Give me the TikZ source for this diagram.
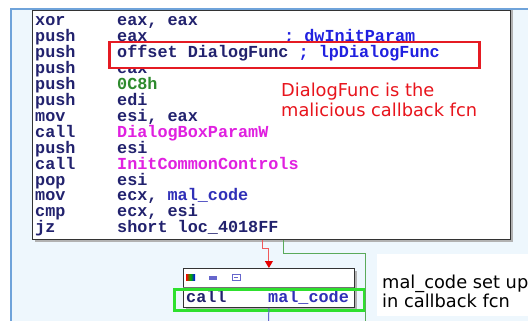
\documentclass[tikz,border=0pt]{standalone}
\usepackage{fontspec}
\newfontfamily\codefont{Liberation Mono}
\newfontfamily\notefont{DejaVu Sans}
\usetikzlibrary{arrows.meta}
\definecolor{panelbg}{HTML}{EEF7FD}
\definecolor{panelline}{HTML}{6FA3DA}
\definecolor{navy}{HTML}{22226E}
\definecolor{magent}{HTML}{E020E0}
\definecolor{codegreen}{HTML}{2E8B2E}
\definecolor{cmtblue}{HTML}{2020E0}
\definecolor{namblue}{HTML}{3030B8}
\definecolor{hlred}{HTML}{E51B23}
\definecolor{hlgreen}{HTML}{2EE02E}
\definecolor{notered}{HTML}{E8141C}
\definecolor{redline}{HTML}{F05A5A}
\definecolor{grnline}{HTML}{5AAA5A}
\definecolor{bluline}{HTML}{6666CC}
\tikzset{
  codetxt/.style={font=\codefont\bfseries\fontsize{16.8}{17}\selectfont, text=navy, anchor=base west, inner sep=0pt},
  notetxt/.style={font=\notefont\fontsize{17.8}{20}\selectfont, anchor=base west, inner sep=0pt},
  boxst/.style={draw=black!80, fill=white, line width=0.8pt, inner sep=0pt, anchor=north west},
  shadowst/.style={fill=black!30},
}
\begin{document}
\begin{tikzpicture}[x=1pt,y=-1pt]
\useasboundingbox (0,0) rectangle (528,321);
\fill[white] (0,0) rectangle (528,321);
\fill[panelbg] (11,9) rectangle (528,321);
% code block
\fill[shadowst] (35,10) rectangle (513,242);
\node[boxst, minimum width=478pt, minimum height=229pt] (code) at (32,10) {};
\draw[panelline, line width=2pt] (11,321) -- (11,9.5) -- (528,9.5);
% rows
\node[codetxt] (m1) at (35,26) {xor};
\node[codetxt] (o1) at (117,26) {eax, eax};
\node[codetxt] (m2) at (35,41.9) {push};
\node[codetxt] (o2) at (117,41.9) {eax};
\node[codetxt, text=cmtblue] (c2) at (284,41.9) {; dwInitParam};
\node[codetxt] (m4) at (35,73.7) {push};
\node[codetxt] (o4) at (117,73.7) {eax};
\node[draw=hlred, line width=2.5pt, fill=white, minimum width=370pt, minimum height=26pt, inner sep=0pt, anchor=north west] (hl) at (108,41) {};
\node[codetxt] (m3) at (35,57.8) {push};
\node[codetxt] (o3) at (117,57.8) {offset DialogFunc \textcolor{cmtblue}{; lpDialogFunc}};
\node[codetxt] (m5) at (35,89.6) {push};
\node[codetxt, text=codegreen] (o5) at (117,89.6) {0C8h};
\node[codetxt] (m6) at (35,105.5) {push};
\node[codetxt] (o6) at (117,105.5) {edi};
\node[codetxt] (m7) at (35,121.4) {mov};
\node[codetxt] (o7) at (117,121.4) {esi, eax};
\node[codetxt] (m8) at (35,137.3) {call};
\node[codetxt, text=magent] (o8) at (117,137.3) {DialogBoxParamW};
\node[codetxt] (m9) at (35,153.2) {push};
\node[codetxt] (o9) at (117,153.2) {esi};
\node[codetxt] (m10) at (35,169.1) {call};
\node[codetxt, text=magent] (o10) at (117,169.1) {InitCommonControls};
\node[codetxt] (m11) at (35,185) {pop};
\node[codetxt] (o11) at (117,185) {esi};
\node[codetxt] (m12) at (35,200.9) {mov};
\node[codetxt] (o12) at (117,200.9) {ecx, \textcolor{namblue}{mal\_code}};
\node[codetxt] (m13) at (35,216.8) {cmp};
\node[codetxt] (o13) at (117,216.8) {ecx, esi};
\node[codetxt] (m14) at (35,232.7) {jz};
\node[codetxt] (o14) at (117,232.7) {short loc\_4018FF};
% red note
\node[notetxt, text=notered] (n1) at (281,97) {DialogFunc is the};
\node[notetxt, text=notered] (n2) at (281,117) {malicious callback fcn};
% lower block
\fill[shadowst] (186,271) rectangle (357,310);
\node[boxst, minimum width=171pt, minimum height=39pt] (blk) at (183,268) {};
\draw[black!55, line width=0.6pt] (183,287) -- (354,287);
\shade[left color=red, right color=blue, middle color=green!70!black] (186,274) rectangle (195,280);
\fill[bluline] (209,276) rectangle (217,280);
\draw[bluline, line width=0.8pt] (232,274) rectangle (240,280);
\draw[bluline, line width=0.6pt] (234,277) -- (238,277);
\node[codetxt] (bm) at (186,302) {call};
\node[codetxt, text=namblue] (bo) at (268,302) {mal\_code};
\node[draw=hlgreen, line width=3pt, minimum width=190pt, minimum height=21pt, inner sep=0pt, anchor=north west] (hg) at (173,288) {};
% connectors
\coordinate (rx) at (262,0);
\coordinate (gx) at (283,0);
\coordinate (gend) at (365,321);
\coordinate (bend) at (268.5,321);
\draw[redline, line width=1pt, -{Triangle[width=8pt,length=7pt,color=red!90!black]}] (code.south -| rx) -- ++(0,9) -| (blk.north);
\draw[grnline, line width=1pt] (code.south -| gx) -- ++(0,14) -| (gend);
\draw[bluline, line width=1pt] (blk.south) -- (bend);
% note 2
\node[fill=white, minimum width=151pt, minimum height=62pt, inner sep=0pt, anchor=north west] (nb) at (377,254) {};
\node[notetxt, text=black] (n3) at (382,288.5) {mal\_code set up};
\node[notetxt, text=black] (n4) at (382,307.5) {in callback fcn};
\end{tikzpicture}
\end{document}
